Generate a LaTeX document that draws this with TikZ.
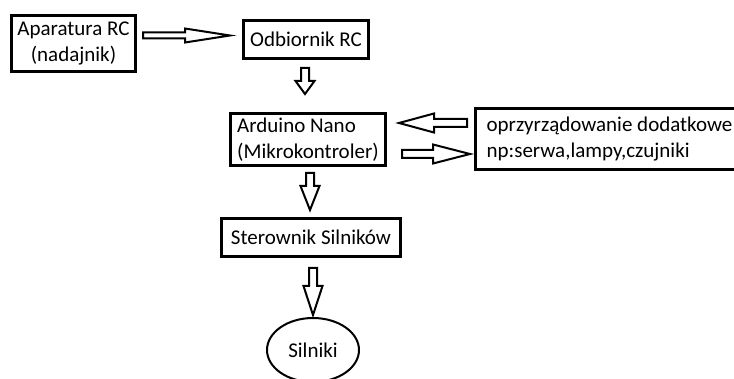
\documentclass[tikz,border=0pt]{standalone}
\usepackage{fontspec}
\setmainfont{Carlito}
\usetikzlibrary{calc}
\usetikzlibrary{shapes.geometric}

\def\shaftw{4pt}
\def\headw{9.5pt}
\tikzset{
  box/.style={draw, line width=3pt, align=left, inner sep=0pt,
    font=\fontsize{21}{25.5}\selectfont},
  hollow/.style={draw, line width=2pt, to path={
    ($(\tikztotarget)!#1!(\tikztostart)$) coordinate (hb)
    ($(\tikztostart)!\shaftw!90:(\tikztotarget)$)
    -- ($(hb)!\shaftw!90:(\tikztotarget)$)
    -- ($(hb)!\headw!90:(\tikztotarget)$)
    -- (\tikztotarget)
    -- ($(hb)!\headw!-90:(\tikztotarget)$)
    -- ($(hb)!\shaftw!-90:(\tikztotarget)$)
    -- ($(\tikztostart)!\shaftw!-90:(\tikztotarget)$)
    -- cycle}},
  hollow/.default=25pt
}

\begin{document}
\begin{tikzpicture}[x=1pt, y=-1pt]
  \useasboundingbox (0,0) rectangle (734,379);
  \clip (0,0) rectangle (734,379);

  \node[box, align=center, minimum width=124, minimum height=56] (rc) at (73.5,43.5) {Aparatura RC\\(nadajnik)};
  \node[box, minimum width=125, minimum height=38] (odb) at (306,39.5) {Odbiornik RC};
  \node[box, minimum width=155, minimum height=52] (ard) at (308,139.5) {Arduino Nano\\(Mikrokontroler)};
  \node[box, minimum width=268, minimum height=61] (opr) at (609.5,139) {oprzyrządowanie dodatkowe\\np:serwa,lampy,czujniki};
  \node[box, minimum width=179, minimum height=38] (ster) at (311,237.5) {Sterownik Silników};
  \node[draw, ellipse, line width=2pt, inner sep=0pt, minimum width=92, minimum height=64,
    font=\fontsize{21}{25.5}\selectfont] (siln) at (313,350) {Silniki};

  \begin{scope}[shift={(0,0)}]
    \def\shaftw{3pt}
    \def\headw{7pt}
    \draw[hollow=45pt] ([xshift=6pt,yshift=8pt]rc.east) to ([xshift=-12pt,yshift=4pt]odb.west);
  \end{scope}
  \draw[hollow=13pt] ([xshift=-1pt,yshift=-8pt]odb.south) to ([xshift=-3pt,yshift=18pt]ard.north);
  \draw[hollow=35pt] ([xshift=-7pt,yshift=16pt]opr.west) to ([xshift=12pt,yshift=16.5pt]ard.east);
  \draw[hollow=37pt] ([xshift=15pt,yshift=-14.5pt]ard.east) to ([xshift=-4pt,yshift=-15pt]opr.west);
  \draw[hollow=24pt] ([xshift=2pt,yshift=-6pt]ard.south) to ([xshift=-1pt,yshift=7pt]ster.north);
  \draw[hollow=29pt] ([xshift=2pt,yshift=-10pt]ster.south) to ([yshift=2pt]siln.north);
\end{tikzpicture}
\end{document}
